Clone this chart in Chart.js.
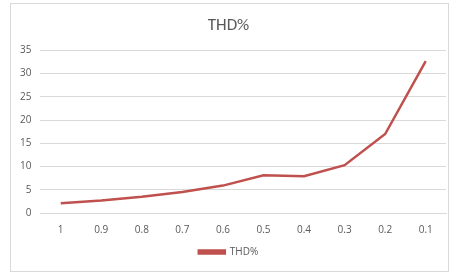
<!DOCTYPE html>
<html>
<head>
<meta charset="utf-8">
<script src="https://cdn.jsdelivr.net/npm/chart.js@4.4.0/dist/chart.umd.min.js"></script>
<style>
    html, body { margin: 0; padding: 0; background: #fff; }
    #wrap {
        position: absolute; left: 10px; top: 3px;
        width: 437px; height: 267px;
        border: 1px solid #d9d9d9;
    }
</style>
</head>
<body>
<div id="wrap"><canvas id="thd-chart"></canvas></div>
<script>
// Chart data
const categories = ['1', '0.9', '0.8', '0.7', '0.6', '0.5', '0.4', '0.3', '0.2', '0.1'];
const thdValues = [2.1, 2.7, 3.5, 4.5, 5.9, 8.1, 7.9, 10.3, 17.0, 32.7];
const yTicks = [0, 5, 10, 15, 20, 25, 30, 35];

const textColor = '#595959';
const gridColor = '#d9d9d9';
const lineColor = '#c0504d';

document.addEventListener('DOMContentLoaded', function() {
    const ctx = document.getElementById('thd-chart').getContext('2d');
    new Chart(ctx, {
        type: 'line',
        data: {
            labels: categories,
            datasets: [{
                label: 'THD%',
                data: thdValues,
                borderColor: lineColor,
                backgroundColor: lineColor,
                borderWidth: 2.5,
                pointRadius: 0,
                tension: 0,
                fill: false
            }]
        },
        options: {
            responsive: true,
            maintainAspectRatio: false,
            animation: false,
            layout: { padding: { left: 0, right: 2, top: 4, bottom: 4 } },
            plugins: {
                title: {
                    display: true,
                    text: 'THD%',
                    color: textColor,
                    font: { family: 'Calibri, Carlito, "Open Sans", sans-serif', size: 17, weight: 'normal' },
                    padding: { top: 8, bottom: 14 }
                },
                legend: {
                    position: 'bottom',
                    labels: {
                        color: textColor,
                        font: { family: '"Open Sans", sans-serif', size: 10 },
                        boxWidth: 26,
                        boxHeight: 3,
                        padding: 8
                    }
                },
                tooltip: { enabled: false }
            },
            scales: {
                x: {
                    offset: true,
                    grid: { display: false },
                    border: { display: true, color: gridColor },
                    ticks: {
                        color: textColor,
                        font: { family: '"Open Sans", sans-serif', size: 10 },
                        padding: 3,
                        maxRotation: 0
                    }
                },
                y: {
                    min: 0,
                    max: 35,
                    afterBuildTicks: function(axis) {
                        axis.ticks = yTicks.map(v => ({ value: v }));
                    },
                    grid: { color: gridColor, drawTicks: false },
                    border: { display: false },
                    ticks: {
                        color: textColor,
                        font: { family: '"Open Sans", sans-serif', size: 10 },
                        padding: 9
                    }
                }
            }
        }
    });
});
</script>
</body>
</html>
